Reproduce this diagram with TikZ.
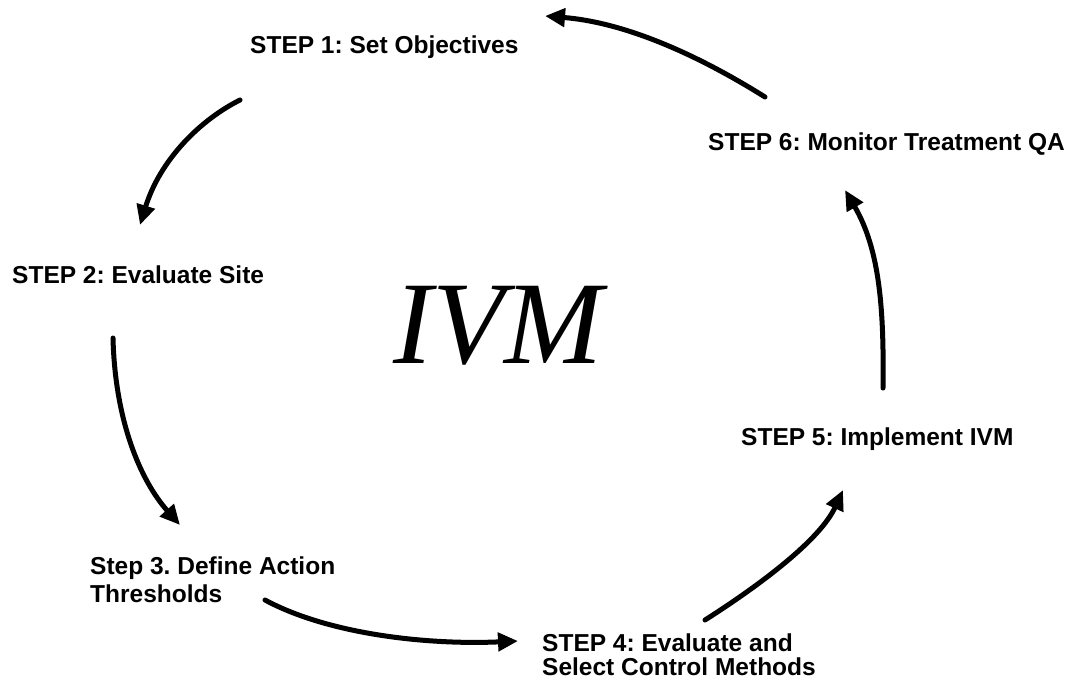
\documentclass[tikz,border=0pt]{standalone}
\usepackage{fontspec}
\setmainfont{Liberation Sans}
\newfontfamily\ivmfont{Liberation Serif}
\usetikzlibrary{arrows.meta}
\frenchspacing
\begin{document}
\begin{tikzpicture}[x=1pt,y=-1pt,
  lbl/.style={font=\bfseries\fontsize{24.5}{28}\selectfont, inner sep=0pt, anchor=base west},
  lbltwo/.style={lbl, align=left, anchor=north west},
  flow/.style={line width=5pt, line cap=round, -{Triangle[length=20pt,width=18pt]}}]
\useasboundingbox[fill=white] (0,0) rectangle (1065,686);

% labels
\node[lbl] (s1) at (250,53) {STEP 1: Set Objectives};
\node[lbl] (s2) at (12,283) {STEP 2: Evaluate Site};
\node[lbltwo] (s3) at (90,557) {Step 3. Define Action\\Thresholds};
\node[lbltwo, font=\bfseries\fontsize{24.5}{24}\selectfont] (s4) at (542,634) {STEP 4: Evaluate and\\Select Control Methods};
\node[lbl] (s5) at (741,445) {STEP 5: Implement IVM};
\node[lbl] (s6) at (708,150) {STEP 6: Monitor Treatment QA};
\node[font=\ivmfont\itshape\fontsize{118}{118}\selectfont, inner sep=0pt, anchor=base] (ivm) at (498,363) {IVM};

% connector end points
\coordinate (a1s) at (765,97);  \coordinate (a1e) at (545,16);
\coordinate (a2s) at (240,100); \coordinate (a2e) at (140,225);
\coordinate (a3s) at (113,338); \coordinate (a3e) at (180,525);
\coordinate (a4s) at (265,600); \coordinate (a4e) at (518,641);
\coordinate (a5s) at (705,620); \coordinate (a5e) at (843,490);
\coordinate (a6s) at (883,388); \coordinate (a6e) at (845,190);

\draw[flow] (a1s) .. controls (690,50) and (620,22) .. (a1e);
\draw[flow] (a2s) .. controls (200,120) and (160,160) .. (a2e);
\draw[flow] (a3s) .. controls (115,420) and (140,480) .. (a3e);
\draw[flow] (a4s) .. controls (330,635) and (430,645) .. (a4e);
\draw[flow] (a5s) .. controls (760,585) and (820,540) .. (a5e);
\draw[flow] (a6s) .. controls (884,310) and (880,250) .. (a6e);
\end{tikzpicture}
\end{document}
